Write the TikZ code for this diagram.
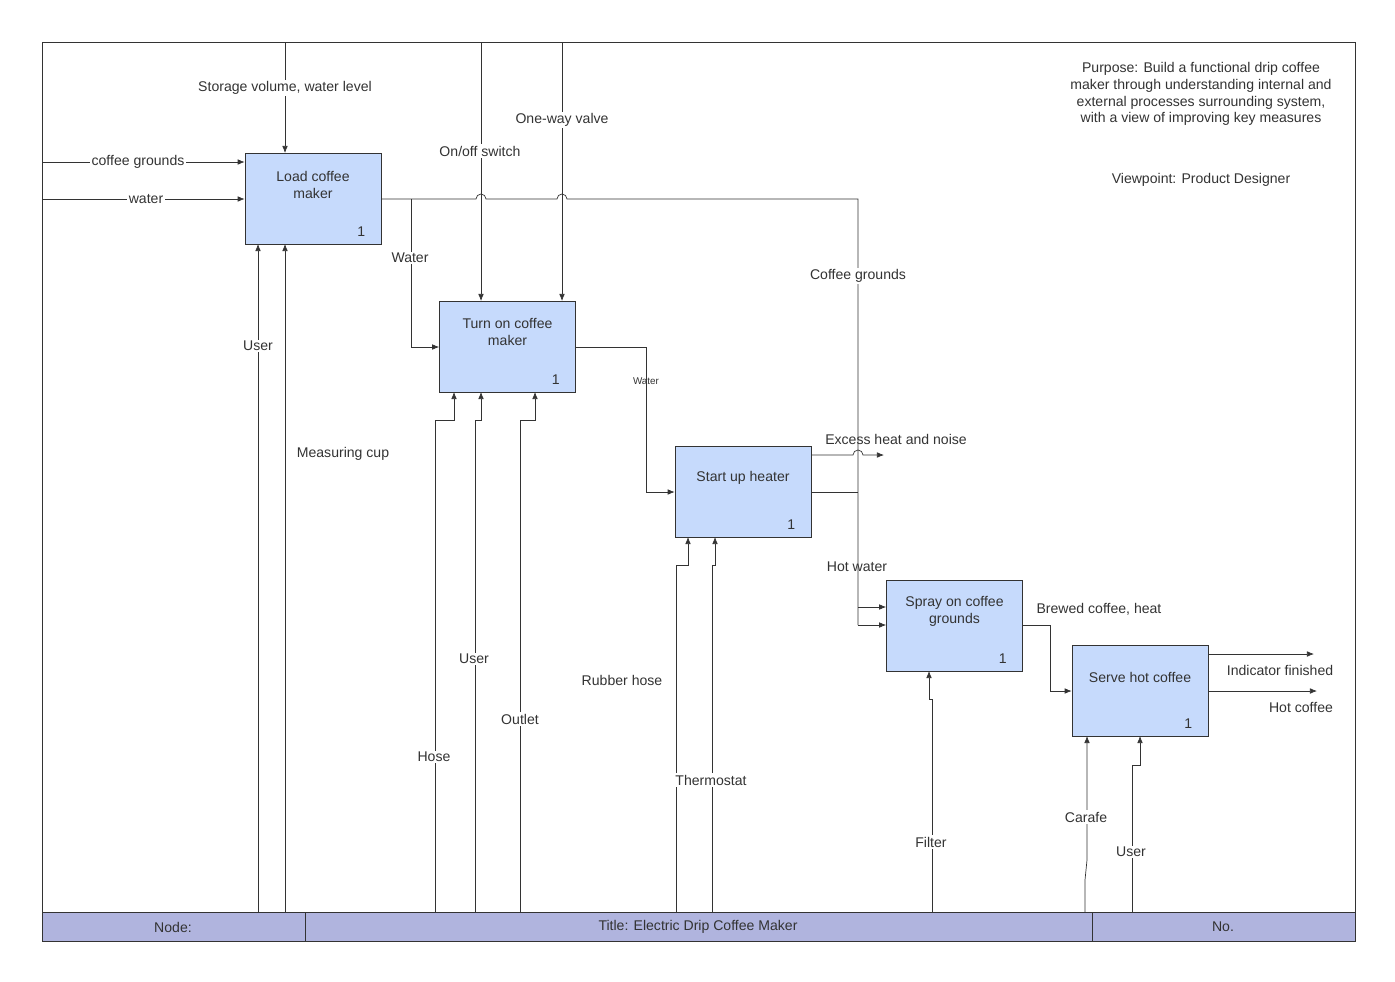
\documentclass[tikz,border=0pt]{standalone}
\usepackage{fontspec}
\setmainfont{Liberation Sans}
\usetikzlibrary{arrows.meta,positioning,calc}
\definecolor{boxblue}{HTML}{C6DAFC}
\definecolor{stripblue}{HTML}{B0B4DE}
\definecolor{txtgrey}{HTML}{333333}
\tikzset{
  box/.style={draw=black!80, fill=boxblue, minimum width=3.4cm, minimum height=2.275cm, inner sep=0pt},
  flow/.style={draw=black!80, line width=0.5pt},
  arr/.style={flow, -{Latex[length=5pt,width=4pt]}},
  lbl/.style={text=txtgrey, font=\fontsize{10}{12}\selectfont, inner sep=1pt},
  onl/.style={lbl, fill=white},
}
\begin{document}
\begin{tikzpicture}[x=0.025cm, y=-0.025cm]
        \useasboundingbox (0,0) rectangle (1395,981);
        % Frame and title strip
        \draw[black!80] (42,42) rectangle (1355,941);
        \draw[black!80, fill=stripblue] (42,912) rectangle (1355,941);
        \draw[black!80] (305,912) -- (305,941) (1092,912) -- (1092,941);
        \node[lbl] (nodecell) at (173,927) {Node:};
        \node[lbl] (titlecell) at (698,927) {Title: Electric Drip Coffee Maker};
        \node[lbl] (nocell) at (1223,927) {No.};

        % Activity boxes
        \node[box] (load) at (313,198.5) {};
        \node[box] (turnon) at (507.5,346.5) {};
        \node[box] (heater) at (743,491.5) {};
        \node[box] (spray) at (954.5,625.5) {};
        \node[box] (serve) at (1140,690.5) {};
        \node[lbl, align=center] at (313,185) {Load coffee\\maker};
        \node[lbl, align=center] at (507.5,332) {Turn on coffee\\maker};
        \node[lbl] at (743,478) {Start up heater};
        \node[lbl, align=center] at (954.5,611) {Spray on coffee\\grounds};
        \node[lbl] at (1140,677) {Serve hot coffee};
        \foreach \b in {load,turnon,heater,spray,serve}
          \node[lbl] at ($(\b.south east)+(-20,-13)$) {1};

        % Purpose and viewpoint
        \node[lbl, align=center] (purpose) at (1201,94) {Purpose: Build a functional drip coffee\\maker through understanding internal and\\external processes surrounding system,\\with a view of improving key measures};
        \node[lbl] (viewpoint) at (1201,180) {Viewpoint: Product Designer};

        % Inputs and controls of load
        \coordinate (cgin) at (42,162);
        \coordinate (win) at (42,199);
        \draw[arr] (cgin) -- (cgin -| load.west);
        \draw[arr] (win) -- (win -| load.west);
        \node[onl] at (138,162) {coffee grounds};
        \node[onl] at (146,199) {water};
        \draw[arr] (285,42) -- (285,153);
        \node[onl] at (285,88) {Storage volume, water level};
        \draw[arr] (258,912) -- (258,244);
        \node[onl] at (258,346) {User};
        \draw[arr] (285,912) -- (285,244);
        \node[lbl] at (343,454) {Measuring cup};

        % Output of load with line jumps
        \draw[flow] (381,199) -- (476,199) arc (180:360:5) -- (557,199) arc (180:360:5) -- (858,199) -- (858,625);
        \draw[arr] (858,625) -- (spray.west |- 0,625);
        \draw[arr] (411,199) -- (411,347) -- (turnon.west |- 0,347);
        \node[onl] at (410,258) {Water};
        \node[onl] at (858,276) {Coffee grounds};

        % Controls of turnon
        \draw[arr] (481,42) -- (481,301);
        \node[onl] at (480,151) {On/off switch};
        \draw[arr] (562,42) -- (562,301);
        \node[onl] at (562,120) {One-way valve};

        % Mechanisms of turnon
        \draw[arr] (435,912) -- (435,420) -- (454,420) -- (454,392);
        \node[onl] at (434,757) {Hose};
        \draw[arr] (475,912) -- (475,420) -- (481,420) -- (481,392);
        \node[onl] at (474,659) {User};
        \draw[arr] (520,912) -- (520,420) -- (535,420) -- (535,392);
        \node[onl] at (520,719) {Outlet};

        % Output of turnon
        \draw[arr] (576,347) -- (646,347) -- (646,492) -- (heater.west |- 0,492);
        \node[lbl, font=\fontsize{7}{8}\selectfont] at (646,381) {Water};

        % Outputs of heater
        \draw[arr] (811,455) -- (853,455) arc (180:360:5) -- (884,455);
        \node[lbl] at (896,439) {Excess heat and noise};
        \draw[flow] (811,492) -- (858,492);
        \draw[arr] (858,607) -- (spray.west |- 0,607);
        \node[lbl] at (857,567) {Hot water};

        % Mechanisms of heater
        \draw[arr] (676,912) -- (676,565) -- (688,565) -- (688,537);
        \node[onl] at (622,680) {Rubber hose};
        \draw[arr] (712,912) -- (712,565) -- (715,565) -- (715,537);
        \node[onl] at (711,780) {Thermostat};

        % Spray output and mechanism
        \draw[arr] (1023,625) -- (1050,625) -- (1050,691) -- (serve.west |- 0,691);
        \node[lbl] at (1099,609) {Brewed coffee, heat};
        \draw[arr] (932,912) -- (932,699) -- (929,699) -- (929,671);
        \node[onl] at (931,842) {Filter};

        % Serve outputs and mechanisms
        \draw[arr] (1208,654) -- (1314,654);
        \node[lbl] at (1280,670) {Indicator finished};
        \draw[arr] (1208,691) -- (1317,691);
        \node[lbl] at (1301,707) {Hot coffee};
        \draw[arr] (1085,912) -- (1085,880) -- (1087,860) -- (1087,736);
        \node[onl] at (1086,817) {Carafe};
        \draw[arr] (1132,912) -- (1132,765) -- (1140,765) -- (1140,736);
        \node[onl] at (1131,852) {User};
\end{tikzpicture}
\end{document}
